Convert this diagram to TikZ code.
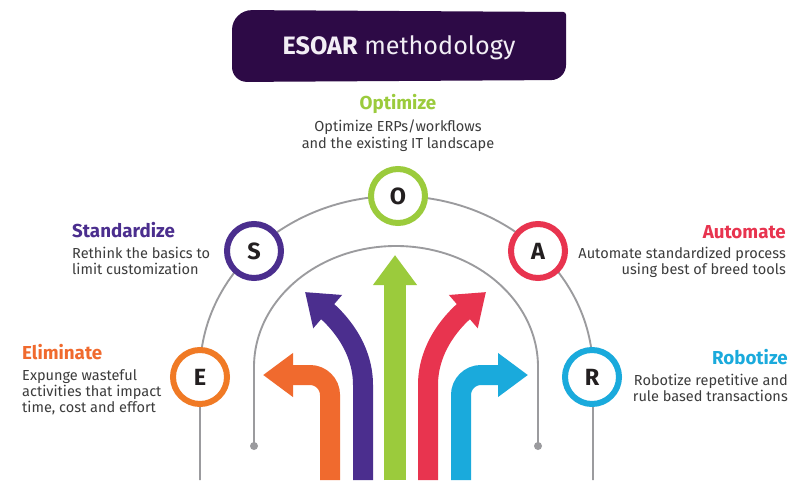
\documentclass[tikz,border=0pt]{standalone}
\usepackage{fontspec}
\setmainfont{Fira Sans}
\usetikzlibrary{arrows.meta}

\definecolor{titlebg}{HTML}{2D0A46}
\definecolor{titletext}{HTML}{F2EEF5}
\definecolor{trackgray}{HTML}{9B9B9E}
\definecolor{bodygray}{HTML}{3C3C3C}
\definecolor{lettergray}{HTML}{231F20}
\definecolor{esoarE}{HTML}{F06A2E}
\definecolor{ringE}{HTML}{F07A25}
\definecolor{esoarS}{HTML}{4B2E8E}
\definecolor{esoarO}{HTML}{9BCB3C}
\definecolor{esoarA}{HTML}{E8344F}
\definecolor{esoarR}{HTML}{1AAADC}

\begin{document}
\begin{tikzpicture}[x=0.03cm,y=-0.03cm,
  track/.style={draw=trackgray,line width=1.6pt},
  ring/.style={circle,draw=#1,line width=0.18cm,fill=white,minimum size=1.62cm,inner sep=0pt,
    font=\fontsize{20}{20}\selectfont\bfseries,text=lettergray},
  heading/.style={font=\fontsize{16}{16}\selectfont\bfseries,text=#1,inner sep=0pt},
  blurb/.style={font=\fontsize{12.4}{14}\selectfont,text=bodygray,inner sep=0pt},
  band/.style={draw=#1,line width=0.6cm,-{Triangle[length=0.9cm,width=1.26cm]}},
]
\useasboundingbox (0,0) rectangle (795,480);
\fill[white] (0,0) rectangle (795,480);
% Title banner
\fill[titlebg] (232,50) [rounded corners=0.6cm] -- (232,10) [rounded corners=0.08cm] -- (566,12)
  [rounded corners=0.45cm] -- (566,80) -- (232,82) -- cycle;
\node[font=\fontsize{21.5}{21.5}\selectfont,text=titletext,anchor=base] (title) at (399,55)
  {\textbf{ESOAR} methodology};
% Tracks
\draw[track] (200,480) -- (200,372) arc[start angle=180,end angle=360,x radius=196.5,y radius=176] -- (593,480);
\draw[track] (254,446) -- (254,367) arc[start angle=180,end angle=360,x radius=142,y radius=121] -- (538,446);
\fill[trackgray] (254,446) circle[radius=4];
\fill[trackgray] (538,446) circle[radius=4];
% Arrows
\draw[band=esoarE,rounded corners=0.6cm] (330,480) -- (330,375) -- (263,375);
\draw[band=esoarS] (363,480) -- (363,385) .. controls (363,345) and (335,318) .. (305,292);
\draw[band=esoarO,line width=0.66cm] (395,480) -- (395,255);
\draw[band=esoarA] (428,480) -- (428,385) .. controls (428,345) and (456,318) .. (486,292);
\draw[band=esoarR,rounded corners=0.6cm] (461,480) -- (461,375) -- (528,375);
% Letters
\node[ring=ringE] (e) at (200,377) {E};
\node[ring=esoarS] (s) at (254,251) {S};
\node[ring=esoarO] (o) at (398,196) {O};
\node[ring=esoarA] (a) at (538,251) {A};
\node[ring=esoarR] (r) at (592,377) {R};
% Labels
\node[heading=esoarO,anchor=base] (optHead) at (398,110) {Optimize};
\node[blurb,align=center,anchor=north] (optText) at (398,120)
  {Optimize ERPs/workflows\\and the existing IT landscape};
\node[heading=esoarS,anchor=base west] (stdHead) at (72,237) {Standardize};
\node[blurb,align=left,anchor=north west] (stdText) at (72,247)
  {Rethink the basics to\\limit customization};
\node[heading=esoarE,anchor=base west] (elmHead) at (22,359) {Eliminate};
\node[blurb,align=left,anchor=north west] (elmText) at (22,369)
  {Expunge wasteful\\activities that impact\\time, cost and effort};
\node[heading=esoarA,anchor=base east] (autHead) at (786,238) {Automate};
\node[blurb,align=right,anchor=north east] (autText) at (786,247)
  {Automate standardized process\\using best of breed tools};
\node[heading=esoarR,anchor=base east] (robHead) at (788,364) {Robotize};
\node[blurb,align=right,anchor=north east] (robText) at (788,374)
  {Robotize repetitive and\\rule based transactions};
\end{tikzpicture}
\end{document}
